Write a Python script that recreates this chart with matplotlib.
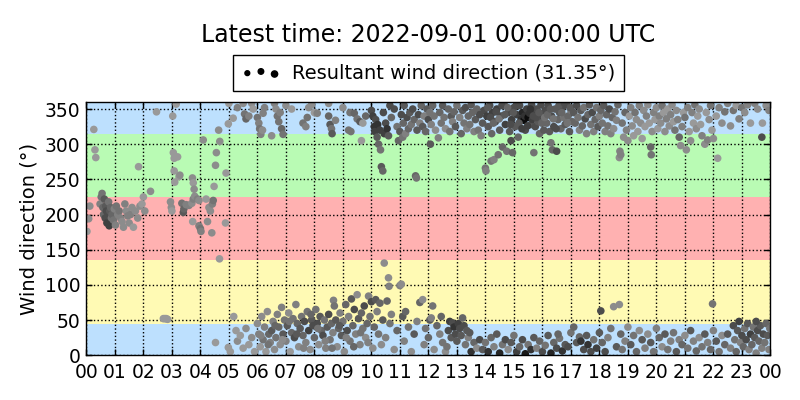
import numpy as np
import matplotlib
matplotlib.use("Agg")
import matplotlib.pyplot as plt
from matplotlib.legend_handler import HandlerPathCollection


# ===================== 資料 =====================
TITLE = "Latest time: 2022-09-01 00:00:00 UTC"
RESULTANT_DIR = 31.35

# 背景方位帶 (下限, 上限, 顏色)
band_lows = [0, 45, 135, 225, 315]
band_highs = [45, 135, 225, 315, 360]
band_colors = ["#bde0fe", "#fffab4", "#ffb1b1", "#b9fbb4", "#bde0fe"]

hour_ticks = list(range(25))
hour_labels = [f"{h % 24:02d}" for h in hour_ticks]

# --- 00-02 h cluster ---
early_hour = [0.02, 0.08, 0.12, 0.26, 0.3, 0.33, 0.48, 0.52, 0.55, 0.58,
              0.6, 0.63, 0.66, 0.68, 0.7, 0.72, 0.75, 0.78, 0.8, 0.82,
              0.85, 0.88, 0.9, 0.95, 0.98, 1.02, 1.05, 1.1, 1.15, 1.2,
              1.25, 1.3, 1.35, 1.4, 1.45, 1.5, 1.55, 1.6, 1.65, 1.72,
              1.8, 1.83, 1.88, 1.95, 2.0, 2.05]
early_dir = [176, 194, 212, 321, 292, 281, 215, 225, 230, 210,
             200, 222, 195, 212, 205, 188, 198, 218, 184, 205,
             210, 195, 200, 192, 208, 185, 212, 200, 205, 195,
             190, 182, 215, 205, 198, 188, 200, 210, 182, 205,
             195, 268, 212, 215, 225, 205]
early_grey = [0.6, 0.55, 0.55, 0.6, 0.6, 0.6, 0.5, 0.45, 0.45, 0.4,
              0.4, 0.35, 0.3, 0.35, 0.3, 0.25, 0.3, 0.45, 0.25, 0.35,
              0.4, 0.45, 0.4, 0.45, 0.5, 0.5, 0.45, 0.5, 0.45, 0.5,
              0.55, 0.55, 0.5, 0.55, 0.5, 0.55, 0.5, 0.55, 0.6, 0.55,
              0.55, 0.6, 0.55, 0.6, 0.6, 0.55]

# --- 02-05 h sparse ---
dawn_hour = [2.25, 2.46, 2.7, 2.75, 2.8, 2.85, 3.03, 3.15, 3.05, 3.08,
             3.2, 3.08, 3.1, 3.25, 3.28, 2.95, 2.98, 3.0, 3.35, 3.4,
             3.42, 3.5, 3.6, 3.7, 3.75, 3.8, 3.9, 3.95, 3.72, 3.75,
             3.78, 3.73, 3.95, 4.0, 4.02, 4.1, 4.2, 4.3, 4.35, 4.42,
             4.45, 4.25, 4.4, 4.48, 4.53, 4.56, 4.64, 4.68, 4.9, 4.88,
             4.67, 4.53, 4.98]
dawn_dir = [233, 346, 52, 52, 52, 51, 340, 357, 288, 280,
            282, 262, 246, 254, 256, 218, 210, 205, 216, 203,
            208, 214, 213, 216, 222, 226, 222, 220, 252, 245,
            236, 190, 184, 180, 176, 306, 222, 210, 205, 215,
            220, 190, 174, 240, 270, 288, 320, 304, 259, 188,
            137, 18, 11]
dawn_grey = [0.55, 0.6, 0.6, 0.6, 0.6, 0.6, 0.6, 0.6, 0.6, 0.6,
             0.6, 0.6, 0.6, 0.6, 0.55, 0.55, 0.55, 0.6, 0.45, 0.35,
             0.4, 0.5, 0.5, 0.55, 0.5, 0.55, 0.5, 0.55, 0.55, 0.6,
             0.55, 0.6, 0.5, 0.45, 0.5, 0.55, 0.6, 0.55, 0.55, 0.5,
             0.45, 0.55, 0.55, 0.6, 0.55, 0.55, 0.55, 0.55, 0.6, 0.6,
             0.6, 0.6, 0.6]

# --- 05-10 h, northerly ---
morning_hour = [4.98, 5.0, 5.15, 5.3, 5.5, 5.55, 5.6, 5.7, 5.8, 5.85,
                6.0, 6.05, 6.08, 6.12, 6.18, 6.2, 6.25, 6.5, 6.6, 6.65,
                6.7, 6.75, 6.8, 6.85, 6.9, 7.0, 7.2, 7.6, 7.7, 7.75,
                7.8, 7.9, 8.0, 8.1, 8.5, 8.55, 8.6, 8.62, 8.5, 8.74,
                9.0, 9.2, 9.25, 9.28, 9.4, 9.5, 9.6, 9.65, 9.7, 9.8]
morning_dir = [329, 358, 337, 352, 358, 343, 336, 340, 358, 350,
               338, 330, 322, 314, 320, 344, 352, 312, 358, 350,
               340, 332, 345, 322, 314, 355, 350, 330, 325, 338,
               352, 356, 345, 344, 340, 328, 322, 315, 358, 334,
               352, 320, 345, 318, 344, 336, 332, 305, 330, 340]
morning_grey = [0.6, 0.6, 0.6, 0.5, 0.55, 0.45, 0.4, 0.5, 0.55, 0.6,
                0.45, 0.5, 0.45, 0.5, 0.55, 0.5, 0.5, 0.55, 0.5, 0.55,
                0.45, 0.45, 0.5, 0.4, 0.45, 0.55, 0.6, 0.45, 0.5, 0.45,
                0.55, 0.55, 0.6, 0.5, 0.4, 0.35, 0.45, 0.35, 0.55, 0.5,
                0.55, 0.45, 0.45, 0.45, 0.4, 0.45, 0.35, 0.6, 0.6, 0.4]

# --- 10-17 h, northerly ---
midday_hour = [10.0, 10.05, 10.1, 10.12, 10.15, 10.2, 10.22, 10.25, 10.3, 10.32,
               10.35, 10.4, 10.42, 10.45, 10.5, 10.55, 10.6, 10.7, 10.8, 10.9,
               10.95, 11.0, 11.05, 11.1, 11.12, 11.15, 11.2, 11.25, 11.3, 11.35,
               11.4, 11.45, 11.5, 11.55, 11.58, 11.6, 11.65, 11.7, 11.75, 11.8,
               11.85, 11.9, 11.95, 12.0, 12.05, 12.07, 12.1, 12.15, 12.2, 12.25,
               12.35, 12.4, 12.45, 12.5, 12.55, 12.6, 12.7, 12.75, 12.8, 12.85,
               12.9, 12.95, 13.0, 13.1, 13.15, 13.2, 13.25, 13.3, 13.35, 13.4,
               13.45, 13.5, 13.55, 13.6, 13.65, 13.7, 13.75, 13.8, 13.85, 13.9,
               13.95, 14.0, 14.02, 14.05, 14.1, 14.15, 14.2, 14.22, 14.25, 14.3,
               14.35, 14.4, 14.45, 14.5, 14.55, 14.6, 14.65, 14.7, 14.75, 14.8,
               14.85, 14.9, 14.92, 14.95, 15.0, 15.05, 15.1, 15.15, 15.2, 15.25,
               15.3, 15.35, 15.38, 15.4, 15.45, 15.5, 15.55, 15.6, 15.62, 15.65,
               15.7, 15.72, 15.75, 15.8, 15.85, 15.9, 15.95, 16.0, 16.05, 16.1,
               16.15, 16.2, 16.25, 16.3, 16.32, 16.35, 16.4, 16.45, 16.5, 16.55,
               16.6, 16.65, 16.7, 16.75, 16.8, 16.85, 16.9, 16.95, 17.0, 17.05,
               14.08, 14.18, 14.28, 14.38, 14.48, 14.58, 14.68, 14.78, 14.88, 14.98,
               15.08, 15.18, 15.28, 15.48, 15.58, 15.68, 15.78, 15.88, 15.98, 16.08,
               16.18, 16.28, 16.38, 16.48, 16.58, 16.68, 16.78, 16.88, 16.98, 10.65]
midday_dir = [348, 340, 325, 318, 335, 310, 328, 300, 320, 292,
              268, 262, 345, 315, 330, 322, 312, 338, 350, 325,
              305, 318, 342, 310, 330, 355, 315, 338, 322, 345,
              328, 350, 335, 255, 252, 320, 342, 330, 355, 325,
              340, 318, 350, 335, 345, 300, 328, 355, 340, 320,
              309, 345, 330, 355, 338, 322, 350, 318, 340, 332,
              346, 325, 355, 338, 315, 348, 330, 352, 322, 340,
              328, 356, 345, 318, 335, 350, 320, 342, 312, 330,
              348, 266, 262, 340, 325, 355, 276, 315, 345, 278,
              332, 350, 285, 320, 340, 296, 358, 328, 290, 345,
              318, 305, 335, 288, 352, 325, 342, 310, 355, 335,
              345, 334, 340, 320, 350, 338, 344, 328, 356, 335,
              288, 345, 325, 350, 332, 315, 356, 340, 320, 348,
              330, 355, 318, 302, 340, 292, 325, 350, 290, 335,
              345, 322, 352, 338, 328, 356, 340, 318, 348, 332,
              352, 338, 330, 346, 336, 355, 342, 352, 328, 345,
              355, 330, 322, 326, 350, 340, 338, 345, 330, 338,
              342, 350, 336, 322, 355, 345, 358, 330, 352, 355]
midday_grey = [0.3, 0.25, 0.2, 0.25, 0.3, 0.35, 0.2, 0.4, 0.25, 0.45,
               0.35, 0.4, 0.3, 0.25, 0.3, 0.2, 0.35, 0.4, 0.3, 0.45,
               0.4, 0.35, 0.3, 0.45, 0.4, 0.35, 0.5, 0.3, 0.4, 0.35,
               0.45, 0.3, 0.4, 0.4, 0.45, 0.35, 0.3, 0.5, 0.4, 0.35,
               0.5, 0.4, 0.35, 0.3, 0.45, 0.35, 0.5, 0.4, 0.45, 0.55,
               0.5, 0.4, 0.45, 0.35, 0.45, 0.55, 0.4, 0.45, 0.35, 0.5,
               0.4, 0.35, 0.45, 0.5, 0.4, 0.35, 0.45, 0.3, 0.5, 0.4,
               0.45, 0.35, 0.4, 0.5, 0.35, 0.4, 0.45, 0.3, 0.5, 0.35,
               0.3, 0.45, 0.5, 0.25, 0.35, 0.3, 0.45, 0.4, 0.25, 0.5,
               0.3, 0.25, 0.45, 0.35, 0.3, 0.4, 0.35, 0.25, 0.45, 0.3,
               0.35, 0.3, 0.25, 0.4, 0.3, 0.35, 0.25, 0.4, 0.3, 0.2,
               0.15, 0.05, 0.2, 0.3, 0.25, 0.05, 0.2, 0.35, 0.3, 0.25,
               0.45, 0.25, 0.3, 0.3, 0.35, 0.4, 0.3, 0.3, 0.35, 0.3,
               0.4, 0.3, 0.35, 0.45, 0.3, 0.4, 0.3, 0.35, 0.3, 0.4,
               0.35, 0.4, 0.3, 0.45, 0.35, 0.3, 0.4, 0.35, 0.45, 0.4,
               0.35, 0.3, 0.4, 0.3, 0.45, 0.3, 0.35, 0.4, 0.3, 0.35,
               0.3, 0.35, 0.25, 0.25, 0.2, 0.3, 0.3, 0.35, 0.4, 0.45,
               0.4, 0.35, 0.45, 0.3, 0.35, 0.4, 0.3, 0.45, 0.35, 0.3]

# --- 17-24 h, northerly ---
evening_hour = [17.1, 17.15, 17.2, 17.25, 17.3, 17.35, 17.4, 17.45, 17.5, 17.55,
                17.6, 17.65, 17.7, 17.75, 17.8, 17.85, 17.9, 17.95, 18.0, 18.05,
                18.1, 18.15, 18.2, 18.25, 18.3, 18.35, 18.4, 18.45, 18.5, 18.55,
                18.6, 18.65, 18.7, 18.72, 18.75, 18.8, 18.85, 18.9, 18.95, 19.0,
                19.05, 19.1, 19.15, 19.2, 19.25, 19.3, 19.35, 19.4, 19.45, 19.5,
                19.55, 19.6, 19.65, 19.7, 19.75, 19.8, 19.82, 19.85, 19.9, 19.95,
                20.0, 20.05, 20.1, 20.15, 20.2, 20.25, 20.3, 20.35, 20.4, 20.45,
                20.5, 20.55, 20.6, 20.65, 20.7, 20.75, 20.8, 20.85, 20.9, 20.95,
                21.0, 21.05, 21.1, 21.15, 21.2, 21.25, 21.3, 21.35, 21.4, 21.45,
                21.5, 21.55, 21.6, 21.7, 21.75, 21.8, 21.85, 21.9, 21.95, 22.0,
                22.1, 22.15, 22.2, 22.3, 22.4, 22.5, 22.6, 22.7, 22.8, 22.9,
                23.0, 23.1, 23.2, 23.3, 23.45, 23.55, 23.7, 23.72, 23.85, 23.95]
evening_dir = [345, 330, 355, 338, 320, 348, 326, 352, 336, 315,
               342, 356, 328, 345, 318, 335, 352, 325, 340, 348,
               330, 355, 318, 342, 326, 350, 315, 338, 322, 346,
               334, 356, 281, 290, 285, 330, 310, 345, 320, 305,
               340, 352, 326, 312, 345, 335, 318, 355, 330, 308,
               348, 325, 340, 356, 330, 296, 285, 318, 345, 335,
               352, 322, 340, 330, 355, 345, 318, 336, 350, 326,
               342, 356, 332, 320, 348, 335, 310, 298, 325, 345,
               338, 292, 352, 318, 305, 345, 330, 356, 322, 340,
               350, 328, 312, 300, 345, 306, 335, 355, 320, 308,
               340, 280, 352, 330, 346, 358, 326, 348, 355, 336,
               352, 345, 356, 330, 358, 350, 310, 330, 355, 348]
evening_grey = [0.35, 0.4, 0.3, 0.45, 0.5, 0.35, 0.4, 0.45, 0.3, 0.5,
                0.4, 0.35, 0.45, 0.3, 0.5, 0.4, 0.45, 0.35, 0.5, 0.4,
                0.45, 0.35, 0.5, 0.4, 0.45, 0.3, 0.5, 0.4, 0.55, 0.45,
                0.5, 0.4, 0.55, 0.5, 0.5, 0.45, 0.55, 0.4, 0.5, 0.55,
                0.6, 0.5, 0.55, 0.6, 0.45, 0.55, 0.6, 0.5, 0.55, 0.6,
                0.55, 0.6, 0.5, 0.55, 0.6, 0.4, 0.45, 0.55, 0.5, 0.6,
                0.55, 0.6, 0.5, 0.55, 0.45, 0.6, 0.55, 0.5, 0.6, 0.55,
                0.5, 0.55, 0.6, 0.45, 0.55, 0.5, 0.4, 0.55, 0.5, 0.6,
                0.45, 0.55, 0.5, 0.6, 0.55, 0.5, 0.6, 0.45, 0.55, 0.6,
                0.55, 0.6, 0.5, 0.55, 0.6, 0.5, 0.55, 0.45, 0.6, 0.55,
                0.6, 0.6, 0.5, 0.55, 0.45, 0.5, 0.55, 0.45, 0.6, 0.5,
                0.45, 0.55, 0.5, 0.6, 0.5, 0.55, 0.3, 0.6, 0.55, 0.5]

# --- 05-24 h, north-northeast (low band) ---
low_hour = [5.05, 5.17, 5.25, 5.3, 5.4, 5.5, 5.6, 5.7, 5.8, 5.9,
            6.0, 6.05, 6.1, 6.15, 6.2, 6.25, 6.3, 6.35, 6.4, 6.45,
            6.5, 6.55, 6.6, 6.65, 6.7, 6.75, 6.8, 6.85, 6.9, 6.95,
            7.0, 7.05, 7.1, 7.15, 7.2, 7.25, 7.3, 7.35, 7.4, 7.45,
            7.5, 7.55, 7.6, 7.65, 7.7, 7.75, 7.8, 7.85, 7.9, 7.95,
            8.0, 8.05, 8.1, 8.15, 8.2, 8.25, 8.3, 8.35, 8.4, 8.45,
            8.5, 8.55, 8.6, 8.65, 8.67, 8.7, 8.75, 8.8, 8.85, 8.9,
            8.95, 9.0, 9.05, 9.1, 9.15, 9.2, 9.25, 9.3, 9.35, 9.4,
            9.45, 9.5, 9.55, 9.6, 9.65, 9.7, 9.75, 9.8, 9.85, 9.9,
            9.95, 10.0, 10.05, 10.1, 10.15, 10.2, 10.25, 10.3, 10.35, 10.4,
            10.45, 10.5, 10.55, 10.6, 10.62, 10.65, 10.7, 10.8, 10.9, 11.0,
            11.05, 11.1, 11.15, 11.2, 11.3, 11.4, 11.5, 11.6, 11.7, 11.8,
            11.85, 11.9, 12.0, 12.05, 12.1, 12.15, 12.2, 12.3, 12.4, 12.5,
            12.6, 12.7, 12.75, 12.8, 12.85, 12.9, 12.95, 13.0, 13.05, 13.1,
            13.15, 13.2, 13.25, 13.3, 13.35, 13.4, 13.5, 13.6, 13.7, 13.8,
            13.9, 14.0, 14.1, 14.2, 14.3, 14.4, 14.5, 14.6, 14.7, 14.8,
            14.9, 15.0, 15.1, 15.2, 15.3, 15.4, 15.5, 15.6, 15.7, 15.8,
            15.9, 16.0, 16.1, 16.2, 16.3, 16.4, 16.5, 16.6, 16.7, 16.8,
            16.9, 17.0, 17.1, 17.2, 17.3, 17.35, 17.45, 17.55, 17.6, 17.7,
            17.8, 17.9, 18.0, 18.05, 18.1, 18.2, 18.3, 18.4, 18.5, 18.6,
            18.7, 18.75, 18.8, 18.9, 19.0, 19.1, 19.2, 19.3, 19.4, 19.5,
            19.6, 19.7, 19.8, 19.9, 20.0, 20.1, 20.2, 20.3, 20.4, 20.5,
            20.6, 20.7, 20.8, 20.9, 21.0, 21.1, 21.2, 21.3, 21.4, 21.5,
            21.6, 21.7, 21.8, 21.9, 21.97, 22.0, 22.1, 22.2, 22.3, 22.4,
            22.5, 22.6, 22.7, 22.75, 22.8, 22.85, 22.9, 22.95, 23.0, 23.05,
            23.1, 23.15, 23.2, 23.25, 23.3, 23.35, 23.4, 23.45, 23.5, 23.55,
            23.6, 23.65, 23.7, 23.75, 23.8, 23.85, 23.9, 23.95, 23.98, 23.5,
            6.12, 6.38, 6.62, 6.88, 7.12, 7.38, 7.62, 7.88, 8.12, 8.38,
            8.62, 8.88, 9.12, 9.38, 9.62, 9.88, 12.45, 12.65, 13.45, 16.55]
low_dir = [5, 55, 35, 20, 28, 10, 38, 15, 25, 5,
           45, 30, 12, 55, 22, 40, 5, 62, 30, 18,
           35, 48, 8, 25, 58, 40, 15, 68, 30, 50,
           20, 42, 60, 5, 32, 52, 25, 72, 45, 12,
           38, 55, 28, 48, 18, 62, 35, 8, 50, 42,
           25, 65, 45, 15, 55, 35, 28, 50, 10, 40,
           58, 22, 45, 32, 78, 70, 50, 12, 38, 60,
           28, 48, 5, 72, 35, 55, 20, 80, 42, 65,
           30, 86, 52, 15, 60, 38, 70, 25, 45, 84,
           55, 76, 10, 40, 79, 62, 30, 74, 15, 50,
           131, 25, 77, 110, 98, 45, 58, 8, 35, 99,
           101, 55, 20, 62, 40, 5, 30, 48, 75, 79,
           15, 38, 25, 50, 53, 70, 8, 42, 30, 18,
           5, 35, 48, 25, 46, 40, 30, 20, 45, 38,
           28, 53, 42, 15, 35, 25, 5, 18, 10, 22,
           8, 18, 5, 25, 12, 30, 3, 15, 22, 8,
           18, 28, 5, 12, 22, 2, 15, 8, 25, 10,
           20, 5, 14, 28, 3, 18, 10, 24, 6, 15,
           12, 32, 40, 18, 26, 20, 8, 28, 15, 5,
           22, 10, 32, 63, 18, 5, 25, 38, 69, 12,
           72, 30, 8, 20, 40, 15, 28, 5, 35, 22,
           10, 30, 18, 5, 38, 25, 12, 30, 8, 20,
           32, 5, 22, 15, 28, 10, 35, 20, 6, 25,
           12, 30, 18, 8, 73, 35, 20, 5, 28, 15,
           30, 10, 42, 22, 5, 35, 48, 18, 28, 12,
           38, 22, 45, 8, 30, 15, 40, 25, 3, 35,
           20, 42, 10, 30, 18, 45, 28, 8, 38, 48,
           28, 15, 42, 22, 48, 30, 10, 58, 38, 20,
           10, 42, 25, 12, 32, 18, 55, 12, 32, 30]
low_grey = [0.6, 0.6, 0.6, 0.55, 0.6, 0.6, 0.55, 0.6, 0.55, 0.6,
            0.55, 0.5, 0.6, 0.55, 0.45, 0.5, 0.6, 0.55, 0.4, 0.5,
            0.35, 0.5, 0.55, 0.45, 0.5, 0.4, 0.55, 0.5, 0.35, 0.45,
            0.5, 0.35, 0.55, 0.6, 0.4, 0.45, 0.3, 0.5, 0.4, 0.55,
            0.35, 0.45, 0.4, 0.3, 0.5, 0.45, 0.25, 0.55, 0.35, 0.3,
            0.4, 0.45, 0.3, 0.55, 0.35, 0.4, 0.3, 0.45, 0.5, 0.35,
            0.3, 0.45, 0.4, 0.5, 0.5, 0.45, 0.35, 0.55, 0.4, 0.5,
            0.35, 0.45, 0.55, 0.4, 0.3, 0.5, 0.45, 0.35, 0.4, 0.3,
            0.5, 0.55, 0.35, 0.5, 0.4, 0.45, 0.3, 0.55, 0.4, 0.5,
            0.45, 0.3, 0.55, 0.4, 0.35, 0.5, 0.45, 0.4, 0.55, 0.35,
            0.55, 0.5, 0.4, 0.55, 0.5, 0.45, 0.5, 0.55, 0.4, 0.5,
            0.55, 0.35, 0.5, 0.4, 0.45, 0.55, 0.35, 0.5, 0.4, 0.55,
            0.5, 0.45, 0.4, 0.35, 0.5, 0.45, 0.55, 0.4, 0.5, 0.45,
            0.55, 0.3, 0.25, 0.35, 0.3, 0.2, 0.3, 0.35, 0.25, 0.3,
            0.35, 0.4, 0.3, 0.45, 0.35, 0.5, 0.2, 0.4, 0.55, 0.3,
            0.35, 0.45, 0.2, 0.4, 0.5, 0.35, 0.15, 0.45, 0.3, 0.55,
            0.35, 0.45, 0.25, 0.4, 0.3, 0.1, 0.45, 0.2, 0.35, 0.5,
            0.4, 0.3, 0.45, 0.35, 0.15, 0.4, 0.3, 0.45, 0.2, 0.35,
            0.3, 0.45, 0.4, 0.35, 0.4, 0.2, 0.3, 0.35, 0.2, 0.3,
            0.45, 0.25, 0.35, 0.3, 0.4, 0.3, 0.5, 0.45, 0.55, 0.35,
            0.55, 0.4, 0.45, 0.5, 0.55, 0.35, 0.45, 0.4, 0.55, 0.35,
            0.5, 0.55, 0.35, 0.45, 0.5, 0.4, 0.55, 0.35, 0.45, 0.5,
            0.45, 0.35, 0.5, 0.4, 0.55, 0.45, 0.35, 0.5, 0.4, 0.55,
            0.45, 0.35, 0.5, 0.4, 0.45, 0.5, 0.35, 0.45, 0.55, 0.4,
            0.35, 0.5, 0.3, 0.45, 0.4, 0.35, 0.25, 0.5, 0.3, 0.4,
            0.45, 0.3, 0.35, 0.5, 0.25, 0.4, 0.45, 0.35, 0.5, 0.3,
            0.4, 0.35, 0.5, 0.3, 0.45, 0.4, 0.35, 0.5, 0.45, 0.3,
            0.5, 0.45, 0.4, 0.55, 0.45, 0.35, 0.5, 0.4, 0.45, 0.5,
            0.45, 0.35, 0.5, 0.4, 0.45, 0.5, 0.4, 0.45, 0.35, 0.4]

segments = [
    ("early", early_hour, early_dir, early_grey),
    ("dawn", dawn_hour, dawn_dir, dawn_grey),
    ("morning", morning_hour, morning_dir, morning_grey),
    ("midday", midday_hour, midday_dir, midday_grey),
    ("evening", evening_hour, evening_dir, evening_grey),
    ("low", low_hour, low_dir, low_grey),
]
for name, h, d, g in segments:
    if not (len(h) == len(d) == len(g)):
        raise ValueError(f"{name}: {len(h)} {len(d)} {len(g)}")

hours = np.concatenate([s[1] for s in segments])
directions = np.concatenate([s[2] for s in segments])
greys = np.concatenate([s[3] for s in segments])


# ===================== 繪圖 =====================
plt.rcParams["font.family"] = "DejaVu Sans"

fig = plt.figure(figsize=(8, 4), dpi=100)
ax = fig.add_axes([0.108, 0.112, 0.855, 0.633])

for lo, hi, col in zip(band_lows, band_highs, band_colors):
    ax.axhspan(lo, hi, color=col, lw=0, zorder=0)

ax.scatter(hours, directions, c=greys, cmap="gray", vmin=0, vmax=1,
           s=30, linewidths=0, zorder=3)

ax.set_xlim(0, 24)
ax.set_ylim(0, 360)
ax.set_xticks(hour_ticks)
ax.set_xticklabels(hour_labels)
ax.set_yticks(range(0, 351, 50))
ax.tick_params(direction="in", top=True, right=True, labelsize=13.5,
               length=4, width=1)
ax.tick_params(axis="x", pad=5.5)
ax.tick_params(axis="y", pad=4.5)
ax.grid(True, linestyle=":", color="black", linewidth=1, zorder=1.5)
for sp in ax.spines.values():
    sp.set_linewidth(1)
    sp.set_zorder(4)

ax.set_ylabel("Wind direction (°)", fontsize=14)

proxy = ax.scatter([], [], c="black", s=12,
                   label=f"Resultant wind direction ({RESULTANT_DIR:.2f}°)")
ax.legend(handles=[proxy], loc="lower center", bbox_to_anchor=(0.5, 1.005),
          scatterpoints=3, fontsize=14, fancybox=False, framealpha=1,
          edgecolor="black", borderpad=0.45, handletextpad=0.6,
          handler_map={proxy: HandlerPathCollection(sizes=[12, 16, 20])})
fig.text(0.535, 0.913, TITLE, ha="center", va="center", fontsize=17)

fig.savefig("out.png", dpi=100)
